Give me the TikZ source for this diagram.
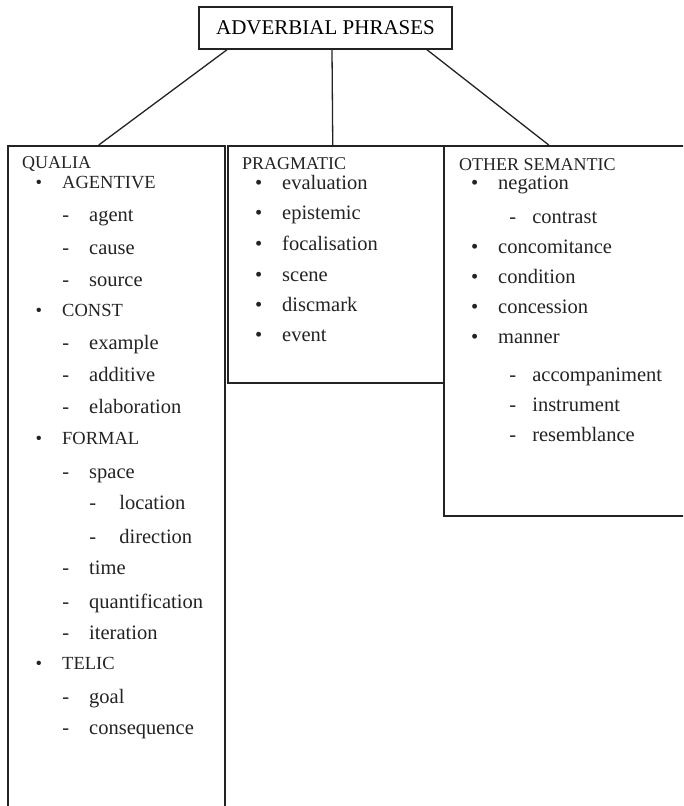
\documentclass[tikz,border=0pt]{standalone}
\usepackage{fontspec}
\setmainfont{Liberation Serif}
\usepackage{tikz}
\usetikzlibrary{positioning}

\definecolor{ink}{RGB}{35, 35, 35}

\newcommand{\bul}{\llap{\textbullet\hspace{20pt}}}
\newcommand{\dsh}[1][20pt]{\llap{-\hspace{#1}}}

\begin{document}
\begin{tikzpicture}[
    x=1pt, y=1pt,
    rootbox/.style={draw=ink, line width=1.5pt, minimum width=253pt, minimum height=42pt,
                    inner sep=0pt, font=\fontsize{21}{24}\selectfont},
    colbox/.style={draw=ink, line width=1.5pt, anchor=north west, inner sep=0pt},
    head/.style={anchor=base west, inner sep=0pt, text=ink, font=\fontsize{18}{20}\selectfont},
    capitem/.style={anchor=base west, inner sep=0pt, text=ink, font=\fontsize{18.5}{20}\selectfont},
    item/.style={anchor=base west, inner sep=0pt, text=ink, font=\fontsize{20.5}{22}\selectfont},
    link/.style={ink, line width=1.3pt}
]
    \useasboundingbox (0,0) rectangle (683,-806);
    \clip (0,0) rectangle (683,-806);

    \node[rootbox] (adv) at (325.5,-28) {ADVERBIAL PHRASES};

    \node[colbox, minimum width=217pt, minimum height=700pt] (qualia) at (7,-145) {};
    \node[colbox, minimum width=216pt, minimum height=237pt] (prag) at (227,-145) {};
    \node[colbox, minimum width=260pt, minimum height=370pt] (other) at (443,-145) {};

    \draw[link] ([xshift=-98.5pt]adv.south) -- ([xshift=-17.5pt]qualia.north);
    \draw[link] ([xshift=6.5pt]adv.south) -- ([xshift=-3pt]prag.north);
    \draw[link] ([xshift=101.5pt]adv.south) -- ([xshift=-25pt]other.north);

    % qualia column
    \node[head] (qhead) at (22,-168) {QUALIA};
    \node[capitem] (agentive) at (62,-188) {\bul AGENTIVE};
    \node[item] (agent) at (89,-221) {\dsh agent};
    \node[item] (cause) at (89,-254) {\dsh cause};
    \node[item] (source) at (89,-286) {\dsh source};
    \node[capitem] (const) at (62,-316) {\bul CONST};
    \node[item] (example) at (89,-349) {\dsh example};
    \node[item] (additive) at (89,-381) {\dsh additive};
    \node[item] (elab) at (89,-413) {\dsh elaboration};
    \node[capitem] (formal) at (62,-444) {\bul FORMAL};
    \node[item] (space) at (89,-478) {\dsh space};
    \node[item] (location) at (114,-509) {\dsh[18pt] location};
    \node[item] (direction) at (114,-543) {\dsh[18pt] direction};
    \node[item] (time) at (89,-574) {\dsh time};
    \node[item] (quant) at (89,-608) {\dsh quantification};
    \node[item] (iter) at (89,-639) {\dsh iteration};
    \node[capitem] (telic) at (62,-669) {\bul TELIC};
    \node[item] (goal) at (89,-703) {\dsh goal};
    \node[item] (conseq) at (89,-734) {\dsh consequence};

    % pragmatic column
    \node[head] (phead) at (242,-169) {PRAGMATIC};
    \node[item] (eval) at (282,-189) {\bul evaluation};
    \node[item] (epist) at (282,-219) {\bul epistemic};
    \node[item] (focal) at (282,-250) {\bul focalisation};
    \node[item] (scene) at (282,-281) {\bul scene};
    \node[item] (discm) at (282,-311) {\bul discmark};
    \node[item] (event) at (282,-341) {\bul event};

    % other semantic column
    \node[head] (ohead) at (459,-170) {OTHER SEMANTIC};
    \node[item] (negation) at (498,-189) {\bul negation};
    \node[item] (contrast) at (527,-223) {\dsh[11pt] contrast};
    \node[item] (concom) at (498,-253) {\bul concomitance};
    \node[item] (cond) at (498,-283) {\bul condition};
    \node[item] (conces) at (498,-313) {\bul concession};
    \node[item] (manner) at (498,-343) {\bul manner};
    \node[item] (accomp) at (527,-381) {\dsh[11pt] accompaniment};
    \node[item] (instr) at (527,-411) {\dsh[11pt] instrument};
    \node[item] (resemb) at (527,-441) {\dsh[11pt] resemblance};
\end{tikzpicture}
\end{document}
